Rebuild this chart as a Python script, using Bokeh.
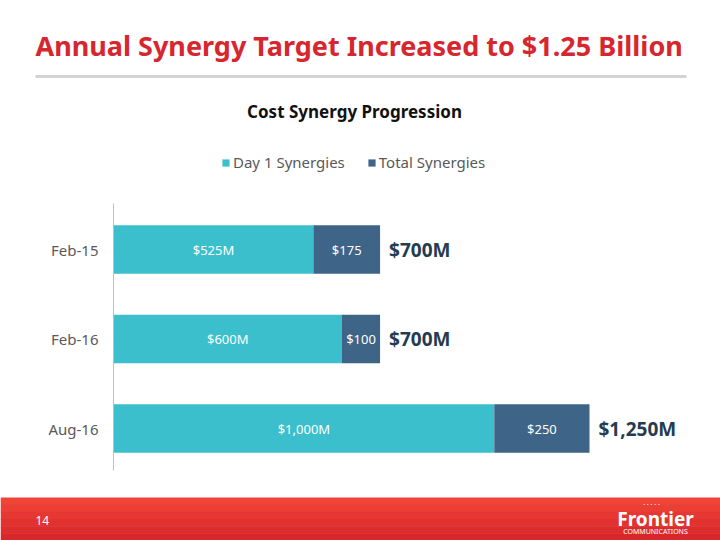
from bokeh.plotting import figure
from bokeh.models import (ColumnDataSource, Range1d, Label, BoxAnnotation,
                          Legend, LegendItem, FixedTicker)
from bokeh.core.properties import value
from bokeh.embed import file_html
from bokeh.resources import INLINE
import numpy as np

# ---- data ----
categories = ["Feb-15", "Feb-16", "Aug-16"]
day1 = [525, 600, 1000]
added = [175, 100, 250]
day1_labels = ["$525M", "$600M", "$1,000M"]
added_labels = ["$175", "$100", "$250"]
total_labels = ["$700M", "$700M", "$1,250M"]
series_names = ["Day 1 Synergies", "Total Synergies"]

TEAL = "#3bbfcc"
NAVY = "#3e6488"
FONT = "Noto Sans"

W, H = 720, 540
# value scale: x=0 at pixel 113, 1250 at pixel 589
X0 = 113.0
K = (589.0 - 113.0) / 1250.0
# category rows: first at pixel 249, spacing 89.5
Y0, DY = 249.0, 89.5

pos = np.arange(len(categories), dtype=float)
d1 = np.array(day1, dtype=float)
ad = np.array(added, dtype=float)
src = ColumnDataSource(dict(
    pos=pos, day1=d1, total=d1 + ad,
    mid1=d1 / 2, mid2=d1 + ad / 2,
    lab1=day1_labels, lab2=added_labels, labt=total_labels,
))

p = figure(width=W, height=H, output_backend="svg", toolbar_location=None,
           x_range=Range1d(-X0 / K, (W - X0) / K),
           y_range=Range1d((H - Y0) / DY, (0 - Y0) / DY),
           x_axis_location=None,
           min_border=0, min_border_left=0, min_border_right=0,
           min_border_top=0, min_border_bottom=0)
p.outline_line_color = None
p.xgrid.visible = False
p.ygrid.visible = False
p.background_fill_color = "white"
p.border_fill_color = "white"

ax = p.yaxis[0]
ax.fixed_location = 0
ax.ticker = FixedTicker(ticks=list(pos))
ax.major_label_overrides = {float(i): c for i, c in enumerate(categories)}
ax.major_label_overrides.update({int(i): c for i, c in enumerate(categories)})
ax.bounds = (-0.51, 2.47)
ax.axis_line_color = "#bfbfbf"
ax.major_tick_line_color = None
ax.minor_tick_line_color = None
ax.major_tick_out = 0
ax.major_tick_in = 0
ax.minor_tick_out = 0
ax.major_label_text_font = FONT
ax.major_label_text_font_size = "15px"
ax.major_label_text_color = "#595959"
ax.major_label_standoff = 15

r1 = p.hbar(y="pos", left=0, right="day1", height=0.54, fill_color=TEAL,
            line_color=None, source=src)
r2 = p.hbar(y="pos", left="day1", right="total", height=0.54, fill_color=NAVY,
            line_color=None, source=src)

p.text(x="mid1", y="pos", text="lab1", source=src, text_align="center",
       text_baseline="middle", text_color="white", text_font=value(FONT),
       text_font_size="13px")
p.text(x="mid2", y="pos", text="lab2", source=src, text_align="center",
       text_baseline="middle", text_color="white", text_font=value(FONT),
       text_font_size="13px")
p.text(x="total", y="pos", text="labt", source=src, x_offset=9, text_align="left",
       text_baseline="middle", text_color="#253b50", text_font=value(FONT),
       text_font_size="19px", text_font_style="bold")


def sx(X):
    return X


def sy(Y):
    return H - Y


# header title
p.add_layout(Label(x=sx(35), y=sy(45), x_units="screen", y_units="screen",
                   text="Annual Synergy Target Increased to $1.25 Billion",
                   text_font=FONT, text_font_size="27px", text_font_style="bold",
                   text_color="#d7262e", text_baseline="middle"))
# divider line
p.add_layout(BoxAnnotation(left=sx(35), right=sx(686), top=sy(74.5), bottom=sy(77.5),
                           left_units="screen", right_units="screen",
                           top_units="screen", bottom_units="screen",
                           fill_color="#d3d3d3", fill_alpha=1, line_color=None))
# chart subtitle
p.add_layout(Label(x=sx(354), y=sy(111), x_units="screen", y_units="screen",
                   text="Cost Synergy Progression", text_align="center",
                   text_font=FONT, text_font_size="17px", text_font_style="bold",
                   text_color="#111111", text_baseline="middle"))

# legend
legend = Legend(items=[LegendItem(label=series_names[0], renderers=[r1]),
                       LegendItem(label=series_names[1], renderers=[r2])],
                orientation="horizontal", location=(sx(221), sy(172)))
legend.border_line_color = None
legend.background_fill_alpha = 0
legend.padding = 0
legend.margin = 0
legend.glyph_width = 9
legend.glyph_height = 9
legend.label_standoff = 3
legend.spacing = 22
legend.label_text_font = FONT
legend.label_text_font_size = "15px"
legend.label_text_color = "#595959"
legend.label_height = 18
p.add_layout(legend)

# footer band (stepwise gradient)
reds = ["#ef4437", "#eb3e34", "#e63832", "#e1322f", "#dc2c2d", "#d8272b"]
top = 497.0
step = (540.0 - top) / len(reds)
for i, c in enumerate(reds):
    p.add_layout(BoxAnnotation(left=sx(0), right=sx(720),
                               top=sy(top + i * step), bottom=sy(top + (i + 1) * step + 0.5),
                               left_units="screen", right_units="screen",
                               top_units="screen", bottom_units="screen",
                               fill_color=c, fill_alpha=1, line_color=None))
p.add_layout(Label(x=sx(35), y=sy(520), x_units="screen", y_units="screen",
                   text="14", text_font=FONT, text_font_size="12px",
                   text_color="white", text_baseline="middle"))
p.add_layout(Label(x=sx(655), y=sy(518), x_units="screen", y_units="screen",
                   text="Frontier", text_font=FONT, text_font_size="19px",
                   text_font_style="bold", text_color="white", text_align="center",
                   text_baseline="middle"))
p.add_layout(Label(x=sx(655), y=sy(531), x_units="screen", y_units="screen",
                   text="COMMUNICATIONS", text_font=FONT, text_font_size="7px",
                   text_color="white", text_align="center", text_baseline="middle"))
p.add_layout(Label(x=sx(651), y=sy(504), x_units="screen", y_units="screen",
                   text="· · · · ·", text_font=FONT, text_font_size="7px",
                   text_color="white", text_align="center", text_baseline="middle"))

open("out.html", "w").write(file_html(p, INLINE))
